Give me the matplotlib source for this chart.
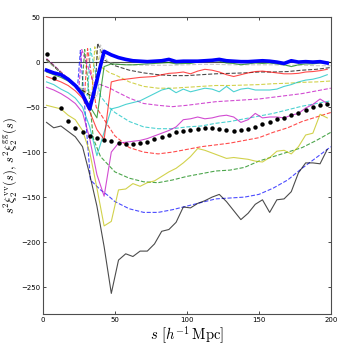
import matplotlib
matplotlib.use("Agg")
import matplotlib.pyplot as plt

plt.rcParams['mathtext.fontset'] = 'cm'
plt.rcParams['xtick.direction'] = 'in'
plt.rcParams['ytick.direction'] = 'in'

# simulation measurements (solid), s = 2.5, 7.5, ..., 197.5
s_sim = [2.5 + 5 * k for k in range(40)]

sim_black = [-67, -73, -71, -77, -83, -94, -125, -160, -205, -257,
             -220, -213, -216, -210, -210, -202, -188, -186, -178, -161,
             -162, -157, -154, -150, -147, -155, -165, -175, -168, -158,
             -153, -167, -153, -152, -144, -123, -112, -112, -113, -97]
sim_yellow = [-48, -50, -52, -59, -64, -76, -100, -140, -182, -177,
              -142, -141, -135, -138, -134, -132, -127, -122, -118, -112,
              -105, -96, -98, -101, -104, -107, -106, -107, -108, -110,
              -111, -106, -99, -98, -102, -94, -81, -79, -58, -62]
sim_magenta = [-28, -31, -35, -40, -46, -56, -85, -125, -149, -100,
               -90, -89, -88, -87, -85, -82, -79, -76, -72, -64,
               -63, -61, -63, -62, -60, -59, -61, -67, -64, -57,
               -62, -61, -61, -62, -59, -57, -51, -47, -41, -46]
sim_cyan = [-22, -25, -30, -34, -40, -50, -72, -104, -78, -52,
            -50, -47, -45, -43, -39, -35, -31, -29, -34, -30,
            -33, -31, -29, -30, -33, -27, -33, -30, -29, -31,
            -31, -31, -30, -27, -25, -22, -20, -19, -17, -14]
sim_red = [-16, -19, -22, -26, -32, -40, -55, -75, -86, -22,
           -20, -19, -18, -17, -16.5, -16, -14, -12.5, -12, -11,
           -13, -10, -8, -9, -11, -14, -16, -14, -12, -10.5,
           -10, -11, -12, -13, -13, -12.5, -11, -10.5, -9.5, -8]
sim_green = [-11, -14, -17, -21, -27, -36, -49, -62, -5, -2,
             -2.5, -3, -3, -2.5, -2, -1.5, -1, -0.5, -2, -1.5,
             -1.5, 0, 1.5, 2, 1, -1, -1.5, -3, -2, -1,
             -1.5, -1, -2, -3, -5, -3, -2, -2, -1, 0]
sim_blue = [-9, -12, -14, -19, -26, -36, -52, -20, 12, 8,
            5, 3, 1.5, 1, 0.5, 1, 1.5, 3, 0.5, 1,
            1, 1, 1.5, 2, 3, 1.5, 1, 0.5, 0.5, 1,
            1.5, 1, 0, -1.5, 1.5, 0, 0.5, 0, 0.5, -1]

# galaxy-galaxy (dots)
gg = [9, -18, -51, -65, -73, -78, -82, -84, -87, -88,
      -90, -91, -91, -90, -88.5, -85.5, -83.7, -81, -78, -76.7,
      -75.7, -74.4, -73.7, -73.7, -74, -75.5, -76, -75.5, -74, -72,
      -69, -66, -63, -62.6, -59, -56, -53, -50, -47.4, -46.3]

# model curves (dashed)
s_tail = [50, 60, 70, 80, 90, 100, 110, 120, 130, 140, 150, 160, 170, 180, 190, 200]

mod_blue_s = [2.5, 10, 20, 24, 26, 33, 40, 45] + s_tail
mod_blue = [3, -8, -23, -29, 13, -131, -142, -148,
            -155, -163, -167, -167, -164, -160, -156, -152,
            -151, -150, -147, -140, -131, -118, -106, -94]
mod_green_s = [2.5, 10, 20, 27, 29, 35, 40, 46.5] + s_tail
mod_green = [2, -8, -24, -33, 14, -85, -105, -116,
             -122, -129, -133, -134, -131, -127, -124, -121,
             -120, -117, -110, -105, -100, -95, -87, -78]
mod_red_s = [2.5, 10, 20, 29, 31, 37, 45] + s_tail
mod_red = [3, -8, -23, -35, 15, -50, -70,
           -82, -95, -100, -102, -100, -97, -94, -92,
           -90, -87, -84, -78, -73, -66, -61, -56]
mod_cyan_s = [2.5, 10, 20, 31, 33, 40, 46.5] + s_tail
mod_cyan = [3, -8, -24, -37, 15, -38, -51,
            -56, -66, -72, -74, -74, -72, -71, -68,
            -66, -63, -60, -57, -53, -49, -46, -43]
mod_magenta_s = [2.5, 10, 20, 25, 27, 35, 46.5] + s_tail
mod_magenta = [4, -7, -22, -29, 14, -22, -29,
               -32, -40, -46, -48, -49.5, -48, -46, -44,
               -43, -42, -41, -39, -37, -35, -32, -29]
mod_yellow_s = [2.5, 10, 20, 34, 36, 40, 46.5] + s_tail
mod_yellow = [3, -8, -23, -38, 17, -5, -12,
              -14, -22, -27, -29, -29, -28, -27, -26,
              -26, -25.5, -25, -24, -23.5, -22.5, -22, -21]
mod_black_s = [2.5, 10, 20, 36, 38, 43] + s_tail
mod_black = [3, -8, -24, -40, 21, 2,
             -4, -9, -12, -14, -15, -15, -14, -13,
             -12.5, -12, -11, -11, -10.5, -9, -8, -6]
mod_grey_s = [2.5, 10, 20, 38, 40, 45] + s_tail
mod_grey = [2, -8, -24, -38, 19, 0,
            -2, -3, -3.5, -3.5, -3.5, -3, -2.5, -2.5,
            -3, -3, -3, -3, -3.5, -3.5, -4, -4]

fig = plt.figure(figsize=(3.49, 3.49), dpi=100)
ax = fig.add_axes([0.123, 0.1, 0.825, 0.851])

ax.axhline(0, color='k', lw=0.8, alpha=0.7)

a = 0.7
ax.plot(mod_blue_s, mod_blue, '--', color='b', lw=0.8, alpha=a)
ax.plot(mod_green_s, mod_green, '--', color='g', lw=0.8, alpha=a)
ax.plot(mod_red_s, mod_red, '--', color='r', lw=0.8, alpha=a)
ax.plot(mod_cyan_s, mod_cyan, '--', color='c', lw=0.8, alpha=a)
ax.plot(mod_magenta_s, mod_magenta, '--', color='m', lw=0.8, alpha=a)
ax.plot(mod_yellow_s, mod_yellow, '--', color='y', lw=0.8, alpha=a)
ax.plot(mod_black_s, mod_black, '--', color='k', lw=0.8, alpha=a)
ax.plot(mod_grey_s, mod_grey, '--', color='0.7', lw=0.8, alpha=a)

ax.plot(s_sim, sim_black, '-', color='k', lw=0.8, alpha=a)
ax.plot(s_sim, sim_yellow, '-', color='y', lw=0.8, alpha=a)
ax.plot(s_sim, sim_magenta, '-', color='m', lw=0.8, alpha=a)
ax.plot(s_sim, sim_cyan, '-', color='c', lw=0.8, alpha=a)
ax.plot(s_sim, sim_red, '-', color='r', lw=0.8, alpha=a)
ax.plot(s_sim, sim_green, '-', color='g', lw=0.8, alpha=a)
ax.plot(s_sim, sim_blue, '-', color='b', lw=2.6)

ax.plot(s_sim, gg, 'o', color='k', ms=3.2, mec='none')

ax.set_xlim(0, 200)
ax.set_ylim(-280, 50)
ax.set_xticks([0, 50, 100, 150, 200])
ax.set_yticks([-250, -200, -150, -100, -50, 0, 50])
ax.tick_params(labelsize=5, length=2.5, width=0.5, top=True, right=True, pad=2)
for sp in ax.spines.values():
    sp.set_linewidth(0.8)
    sp.set_color('0.3')

ax.set_xlabel(r'$s\ [h^{-1}\,{\rm Mpc}]$', fontsize=10.5, labelpad=1)
ax.set_ylabel(r'$s^2\xi_2^{\rm vv}(s),\, s^2\xi_2^{\rm gg}(s)$', fontsize=9, labelpad=1)

fig.savefig('out.png', dpi=100)
